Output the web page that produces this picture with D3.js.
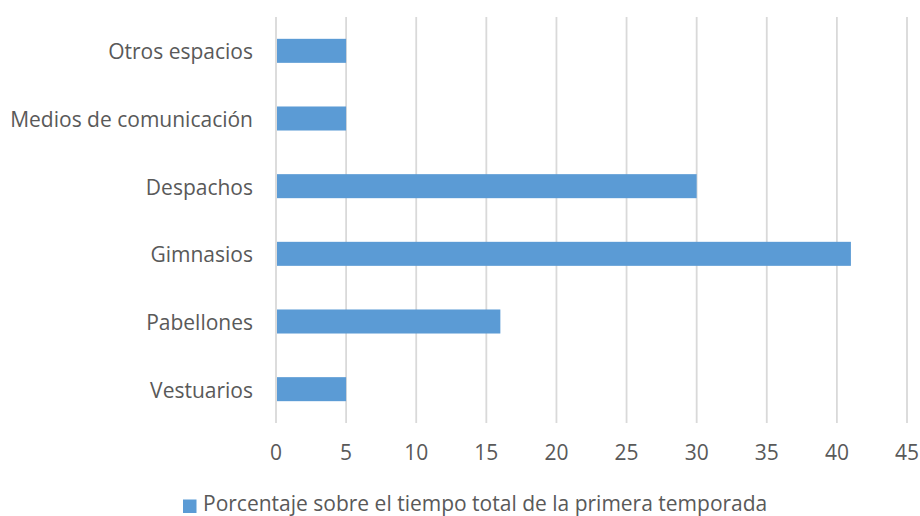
<!DOCTYPE html>
<html>
<head>
<meta charset="utf-8">
<script src="https://cdn.jsdelivr.net/npm/d3@7"></script>
<style>
  html, body { margin: 0; padding: 0; background: #fff; }
  svg text { font-family: "Open Sans", Lato, sans-serif; fill: #595959; }
</style>
</head>
<body>
<svg id="chart" width="920" height="516"></svg>
<script>
// Categories listed top to bottom
const categories = ["Otros espacios", "Medios de comunicación", "Despachos", "Gimnasios", "Pabellones", "Vestuarios"];
const values = [5, 5, 30, 41, 16, 5];
const xTicks = [0, 5, 10, 15, 20, 25, 30, 35, 40, 45];
const seriesName = "Porcentaje sobre el tiempo total de la primera temporada";

const svg = d3.select("#chart");
const plotLeft = 276, plotRight = 907, plotTop = 17, plotBottom = 423;
const fontSize = 21;

const x = d3.scaleLinear().domain([0, 45]).range([plotLeft, plotRight]);
const y = d3.scaleBand().domain(categories).range([plotTop, plotBottom]).paddingInner(0.645).paddingOuter(0.3225);

// vertical gridlines
svg.append("g").selectAll("line").data(xTicks).join("line")
  .attr("x1", d => x(d)).attr("x2", d => x(d))
  .attr("y1", plotTop).attr("y2", plotBottom)
  .attr("stroke", "#d9d9d9").attr("stroke-width", 1.8);

// bars
svg.append("g").selectAll("rect").data(values).join("rect")
  .attr("x", x(0) + 1)
  .attr("y", (d, i) => y(categories[i]))
  .attr("width", d => x(d) - x(0) - 1)
  .attr("height", y.bandwidth())
  .attr("fill", "#5b9bd5");

// category labels
svg.append("g").selectAll("text").data(categories).join("text")
  .attr("x", 253)
  .attr("y", d => y(d) + y.bandwidth() / 2)
  .attr("dy", "0.4em")
  .attr("text-anchor", "end")
  .attr("font-size", fontSize)
  .text(d => d);

// x tick labels
svg.append("g").selectAll("text").data(xTicks).join("text")
  .attr("x", d => x(d))
  .attr("y", 460)
  .attr("text-anchor", "middle")
  .attr("font-size", fontSize)
  .text(d => d);

// legend
const lg = svg.append("g");
lg.append("rect").attr("x", 183).attr("y", 499.5).attr("width", 13.5).attr("height", 13.5).attr("fill", "#5b9bd5");
lg.append("text").attr("x", 203).attr("y", 510.5).attr("font-size", fontSize).text(seriesName);
</script>
</body>
</html>
